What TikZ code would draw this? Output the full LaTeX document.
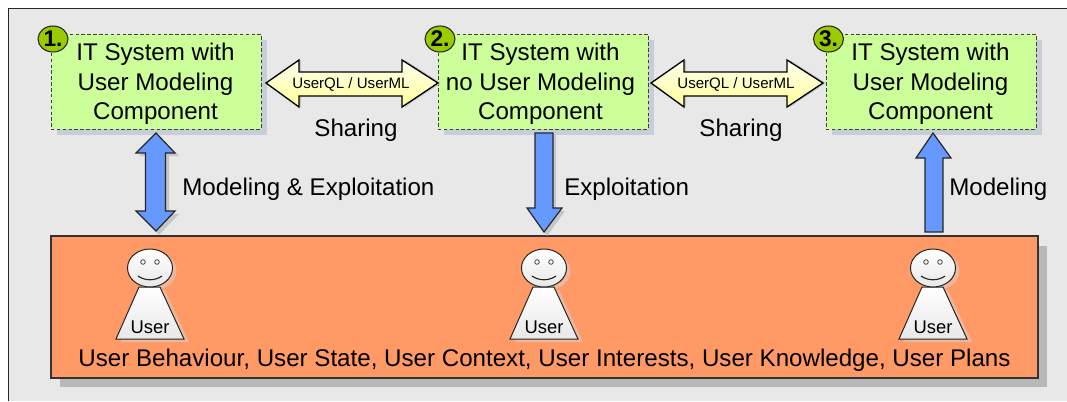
\documentclass[tikz,border=0pt]{standalone}
\usepackage{fontspec}
\setmainfont{Liberation Sans}
\usetikzlibrary{shapes.geometric}
\definecolor{pagebg}{HTML}{E8E8E8}
\definecolor{boxgreen}{HTML}{CCFF99}
\definecolor{boxshadow}{HTML}{C8CED8}
\definecolor{badge}{HTML}{99CC00}
\definecolor{arrowblue}{HTML}{6699FF}
\definecolor{orangefill}{HTML}{FF9966}
\definecolor{orangeshadow}{HTML}{B8B8B8}
\definecolor{actorshadow}{HTML}{EDB79C}
\definecolor{arrowshadow}{HTML}{C6C6C6}
\definecolor{creamA}{HTML}{FFFFF0}
\definecolor{creamB}{HTML}{FFFF99}
\tikzset{
  x=0.75pt,y=-0.75pt,
  sysbox/.style={draw=black!75,fill=boxgreen,dash pattern=on 2.6pt off 1.8pt,line width=0.75pt,minimum width=157.5pt,minimum height=71.25pt,inner sep=0pt},
  systext/.style={font=\fontsize{18.1}{22.1}\selectfont,align=center,inner sep=0pt},
  numbadge/.style={draw=black!85,fill=badge,ellipse,line width=0.8pt,minimum width=22.5pt,minimum height=19.5pt,inner sep=0pt,font=\bfseries\fontsize{17}{17}\selectfont},
  caption/.style={font=\fontsize{18.1}{20}\selectfont,inner sep=0pt},
  arrowtext/.style={font=\fontsize{11.3}{13}\selectfont,inner sep=0pt},
  actortext/.style={font=\fontsize{13.8}{15}\selectfont,inner sep=0pt},
  blockarrow/.style={draw=black!85,line width=0.9pt,fill=arrowblue,line join=miter},
  creamarrow/.style={draw=black,line width=1pt,top color=creamA,bottom color=creamB,line join=miter},
  arrowsh/.style={fill=arrowshadow,draw=none},
  actorline/.style={draw=black!85,line width=0.75pt,top color=white,bottom color=black!9}
}
% horizontal double arrow: #1 left tip x, #2 right tip x
\newcommand{\hdouble}[3]{%
  \path[#3] (#1,83) -- (#1+33,60) -- (#1+33,72) -- (#2-36,72) -- (#2-36,60) -- (#2,83) -- (#2-36,107) -- (#2-36,96) -- (#1+33,96) -- (#1+33,107) -- cycle;}
\newcommand{\actor}[2]{%
  \begin{scope}[shift={(#1,0)}]
    \fill[actorshadow] (-6,290) -- (15,290) -- (39,342) -- (-29,342) -- cycle;
    \fill[actorshadow] (4,271) ellipse[x radius=22.5,y radius=19];
    \path[actorline] (-11,287) -- (10,287) -- (34,339) -- (-34,339) -- cycle;
    \path[actorline] (0,268) ellipse[x radius=22.5,y radius=19];
    \draw[black!75,line width=0.6pt] (-7,262) circle[radius=2.3] (7,262) circle[radius=2.3];
    \draw[black!85,line width=0.85pt] (-12,276) .. controls (-5,281) and (5,281) .. (12,276);
    \node[actortext] (#2) at (0,327) {User};
  \end{scope}}
\begin{document}
\begin{tikzpicture}
\useasboundingbox (0,0) rectangle (1067,401);
\fill[white] (0,0) rectangle (1067,401);
\path[fill=pagebg] (8.5,8.5) rectangle (1067,401);
\draw[black!85,line width=0.8pt] (8.5,401) -- (8.5,8.5) -- (1067,8.5);
% shadows
\foreach \xx in {57,444,832} \fill[boxshadow] (\xx,40) rectangle +(210,95);
\fill[orangeshadow] (60,246) rectangle (1047,387);
\node[draw=black!80,fill=orangefill,line width=0.9pt,minimum width=740.25pt,minimum height=106.5pt,inner sep=0pt] (band) at (544.5,307) {};
% system boxes
\node[sysbox] (s1) at (156,81.5) {};
\node[sysbox] (s2) at (543,81.5) {};
\node[sysbox] (s3) at (931,81.5) {};
\node[systext] at (155.5,84) {IT System with\\User Modeling\hspace*{4pt}\\Component};
\node[systext] at (540.5,84) {IT System with\\no User Modeling\\Component};
\node[systext] at (930.5,84) {IT System with\\User Modeling\hspace*{4pt}\\Component};
\node[numbadge] (b1) at (53,39) {1.};
\node[numbadge] (b2) at (440,39) {2.};
\node[numbadge] (b3) at (828.5,39) {3.};
% sharing arrows
\hdouble{268}{441}{arrowsh}
\hdouble{266}{438}{creamarrow}
\hdouble{653}{826}{arrowsh}
\hdouble{651}{823}{creamarrow}
\node[arrowtext] (q1) at (351,84) {UserQL / UserML};
\node[arrowtext] (q2) at (736,84) {UserQL / UserML};
\node[caption] (sh1) at (356,130) {Sharing};
\node[caption] (sh2) at (741,130) {Sharing};
% vertical arrows
\path[arrowsh] (159,136) -- (179,156) -- (169,156) -- (169,214) -- (179,214) -- (159,235) -- (139,214) -- (149,214) -- (149,156) -- (139,156) -- cycle;
\path[blockarrow] (156,133) -- (175,153) -- (165.5,153) -- (165.5,211) -- (175,211) -- (156,231) -- (136,211) -- (145.5,211) -- (145.5,153) -- (136,153) -- cycle;
\path[arrowsh] (537,135) -- (556,135) -- (556,211) -- (565,211) -- (547,236) -- (530,211) -- (537,211) -- cycle;
\path[blockarrow] (535,133) -- (553,133) -- (553,208) -- (562,208) -- (544,232) -- (527,208) -- (535,208) -- cycle;
\path[blockarrow] (933,133) -- (951,158) -- (943,158) -- (943,232) -- (925,232) -- (925,158) -- (916,158) -- cycle;
\node[caption,anchor=west] (me) at (182,189) {Modeling \& Exploitation};
\node[caption,anchor=west] (ex) at (564,189) {Exploitation};
\node[caption,anchor=west] (mo) at (949,189) {Modeling};
% actors
\actor{150}{u1}
\actor{544}{u2}
\actor{933}{u3}
\node[caption] (ctx) at (544.5,360) {User Behaviour, User State, User Context, User Interests, User Knowledge, User Plans};
\end{tikzpicture}
\end{document}
